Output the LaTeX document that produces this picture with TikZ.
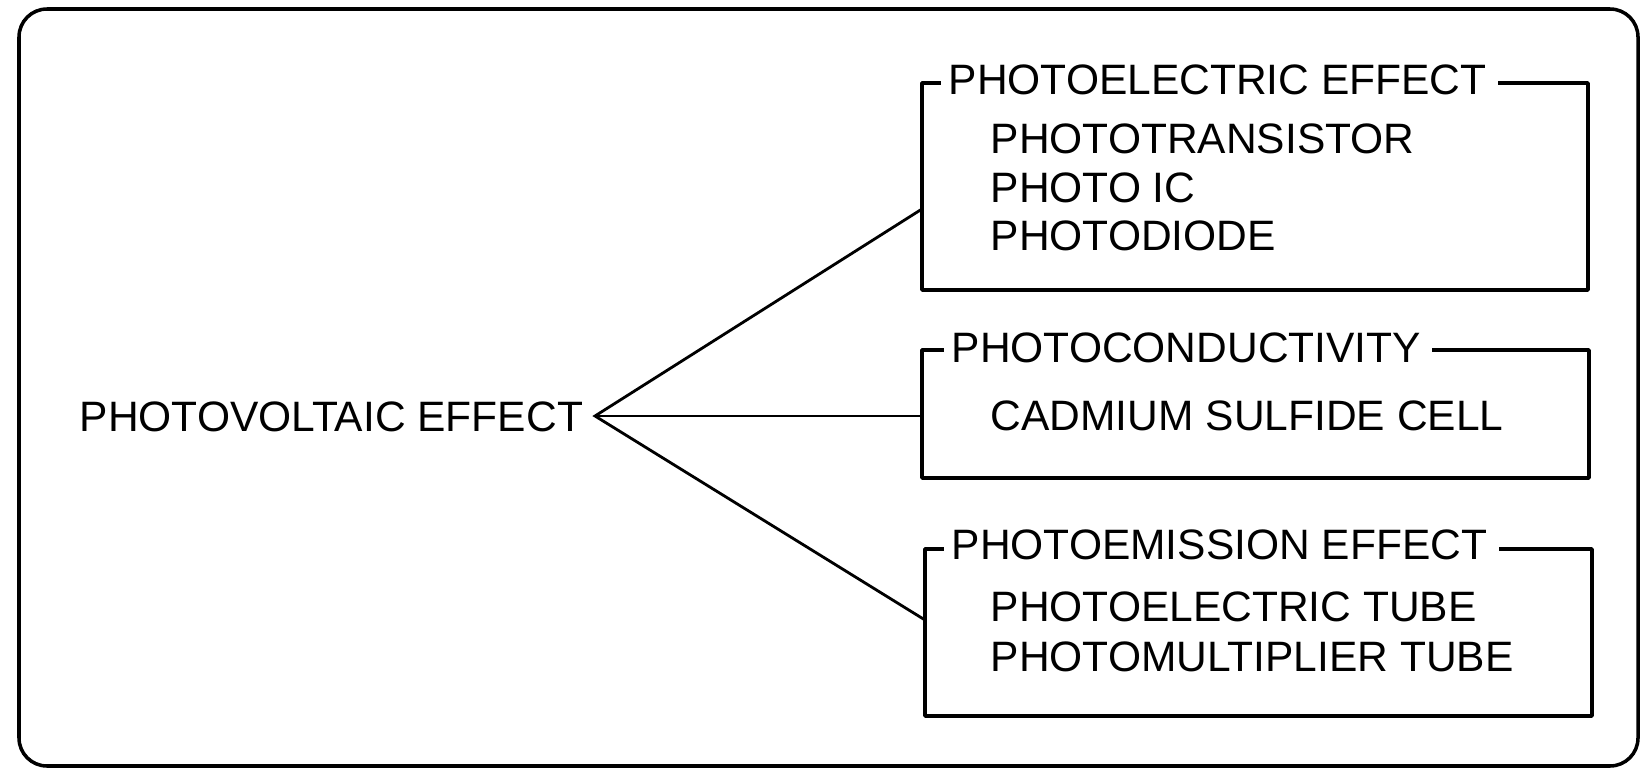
\documentclass[tikz,border=0pt]{standalone}
\usepackage{fontspec}
\setmainfont{Liberation Sans}
\tikzset{
  label/.style={anchor=west, inner sep=0pt, font=\fontsize{12.1}{14}\selectfont},
  frame/.style={line width=1pt, line join=round},
  link/.style={line width=0.8pt}
}
\begin{document}
\begin{tikzpicture}
\useasboundingbox (0,0) rectangle (16.42,7.70);
% Outer panel
\draw[frame, rounded corners=0.28cm] (0.19,0.04) rectangle (16.38,7.61);
% Source
\node[label] (pv) at (0.79,3.53) {PHOTOVOLTAIC EFFECT};
\coordinate (fan) at (5.95,3.54);
% Photoelectric effect
\begin{scope}
  \coordinate (pe-nw) at (9.22,6.87);
  \coordinate (pe-se) at (15.88,4.80);
  \coordinate (pe-in) at (9.22,5.61);
  \node[label] (pe) at (9.48,6.90) {PHOTOELECTRIC EFFECT};
  \draw[frame] ([xshift=-2pt]pe.west |- pe-nw) -- (pe-nw) |- (pe-se) |- ([xshift=3pt]pe.east |- pe-nw);
  \node[label] (pe1) at (9.90,6.31) {PHOTOTRANSISTOR};
  \node[label] (pe2) at (9.90,5.82) {PHOTO IC};
  \node[label] (pe3) at (9.90,5.34) {PHOTODIODE};
\end{scope}
% Photoconductivity
\begin{scope}
  \coordinate (pc-nw) at (9.22,4.20);
  \coordinate (pc-se) at (15.89,2.92);
  \coordinate (pc-in) at (9.22,3.54);
  \node[label] (pc) at (9.51,4.22) {PHOTOCONDUCTIVITY};
  \draw[frame] ([xshift=-2pt]pc.west |- pc-nw) -- (pc-nw) |- (pc-se) |- ([xshift=3pt]pc.east |- pc-nw);
  \node[label] (pc1) at (9.90,3.54) {CADMIUM SULFIDE CELL};
\end{scope}
% Photoemission effect
\begin{scope}
  \coordinate (pm-nw) at (9.25,2.21);
  \coordinate (pm-se) at (15.92,0.54);
  \coordinate (pm-in) at (9.25,1.50);
  \node[label] (pm) at (9.51,2.25) {PHOTOEMISSION EFFECT};
  \draw[frame] ([xshift=-2pt]pm.west |- pm-nw) -- (pm-nw) |- (pm-se) |- ([xshift=3pt]pm.east |- pm-nw);
  \node[label] (pm1) at (9.90,1.63) {PHOTOELECTRIC TUBE};
  \node[label] (pm2) at (9.90,1.13) {PHOTOMULTIPLIER TUBE};
\end{scope}
% Fan of links
\draw[link] (pe-in) -- (fan) -- (pm-in);
\draw[link] (fan) -- (pc-in);
\end{tikzpicture}
\end{document}
